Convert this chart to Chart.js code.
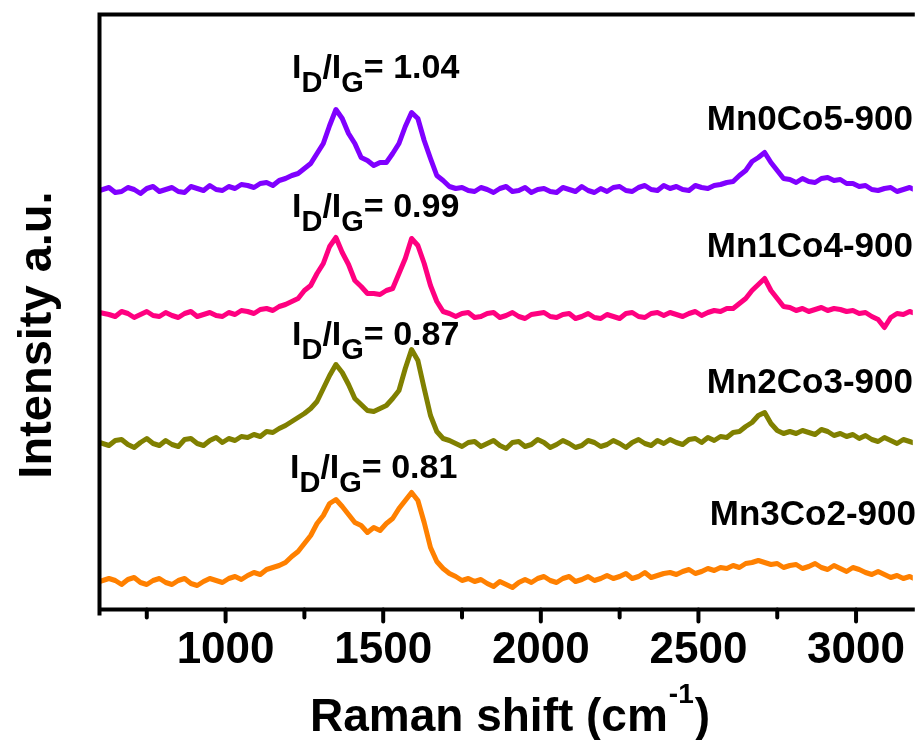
<!DOCTYPE html>
<html>
<head>
<meta charset="utf-8">
<script src="https://cdn.jsdelivr.net/npm/chart.js@4.4.1/dist/chart.umd.min.js"></script>
<style>
  html, body { margin: 0; padding: 0; background: #fff; }
  #wrap { width: 920px; height: 740px; position: relative; overflow: hidden; }
</style>
</head>
<body>
<div id="wrap"><canvas id="c" width="920" height="740"></canvas></div>
<script>
// Raman shift (cm-1) sample positions
const ramanShift = [
  600,630,650,670,690,710,730,750,770,790,
  810,830,850,870,890,910,930,950,970,990,
  1010,1030,1050,1070,1090,1110,1130,1150,1170,1190,
  1210,1230,1250,1270,1290,1310,1330,1350,1370,1390,
  1410,1430,1450,1470,1490,1510,1530,1550,1570,1590,
  1610,1630,1650,1670,1690,1710,1730,1750,1770,1790,
  1810,1830,1850,1870,1890,1910,1930,1950,1970,1990,
  2010,2030,2050,2070,2090,2110,2130,2150,2170,2190,
  2210,2230,2250,2270,2290,2310,2330,2350,2370,2390,
  2410,2430,2450,2470,2490,2510,2530,2550,2570,2590,
  2610,2630,2650,2670,2690,2710,2730,2750,2770,2790,
  2810,2830,2850,2870,2890,2910,2930,2950,2970,2990,
  3010,3030,3050,3070,3090,3110,3130,3150,3170,3190
];

// Stacked intensities (a.u., offset for display)
const mn0co5 = [
  419,422,417,418,422,420,416,421,423,418,
  420,422,418,417,423,421,419,424,420,419,
  423,421,425,424,422,426,427,424,429,431,
  434,436,441,446,456,466,484,500,491,476,
  466,452,449,444,447,447,456,466,483,497,
  491,469,451,434,429,423,421,422,419,418,
  422,420,417,421,423,418,419,422,417,420,
  421,418,417,422,420,418,423,419,417,421,
  418,422,423,419,418,422,424,420,419,424,
  421,423,420,419,424,422,421,424,425,427,
  428,434,439,448,452,457,447,439,431,430,
  427,431,428,427,431,432,429,430,426,426,
  423,424,420,419,421,422,418,420,422,419
];
const mn1co4 = [
  297,295,293,298,296,292,295,298,294,293,
  297,294,292,296,298,293,295,297,294,293,
  297,295,299,298,296,300,301,299,303,305,
  308,311,319,324,336,346,363,372,357,345,
  329,323,316,316,315,319,321,336,351,371,
  364,346,324,308,298,296,293,296,297,292,
  293,296,297,292,294,297,293,291,295,296,
  297,293,292,295,296,291,293,296,292,291,
  295,293,291,296,297,293,292,296,297,294,
  297,295,293,296,298,294,297,299,298,301,
  301,306,311,319,325,331,319,311,303,302,
  299,301,298,300,302,299,301,300,298,299,
  296,297,293,290,282,292,296,295,298,296
];
const mn2co3 = [
  167,164,169,170,165,162,167,171,166,164,
  169,165,163,170,171,166,164,169,172,167,
  171,169,173,172,175,173,178,177,181,184,
  188,192,196,201,208,221,234,245,237,225,
  211,205,199,198,201,204,211,219,241,260,
  249,221,194,178,171,169,166,163,167,168,
  163,166,169,164,161,167,168,163,165,170,
  167,162,165,169,166,162,164,169,167,163,
  165,169,166,162,167,170,166,164,169,166,
  170,167,165,170,171,167,172,169,173,172,
  177,178,183,187,194,197,186,179,176,178,
  176,179,177,175,180,178,174,176,173,175,
  171,174,170,168,172,169,166,170,168,166
];
const mn3co2 = [
  28,31,29,25,30,32,27,25,29,31,
  27,25,29,31,26,24,28,31,29,27,
  31,33,30,34,37,35,40,42,44,47,
  53,58,66,74,86,94,106,110,103,95,
  87,84,77,82,79,86,91,101,109,117,
  109,87,62,48,41,36,33,29,31,28,
  30,26,23,28,25,22,27,30,27,31,
  33,29,27,31,33,28,30,33,29,31,
  34,31,33,36,31,33,37,32,34,36,
  37,35,38,40,36,38,41,39,42,41,
  44,42,46,47,49,47,45,46,42,44,
  45,41,43,46,42,40,44,41,38,42,
  40,37,35,38,35,32,34,31,33,30
];

const seriesNames = ['Mn0Co5-900', 'Mn1Co4-900', 'Mn2Co3-900', 'Mn3Co2-900'];
const ratioValues = ['1.04', '0.99', '0.87', '0.81'];
const majorTicks = [1000, 1500, 2000, 2500, 3000];
const minorTicks = [750, 1250, 1750, 2250, 2750];

const colors = ['#8000ff', '#ff0080', '#808000', '#ff8000'];
const seriesData = [mn0co5, mn1co4, mn2co3, mn3co2];

const FONT = '"Liberation Sans", Arial, Helvetica, sans-serif';

const decor = {
  id: 'decor',
  afterDatasetsDraw(chart) {
    const { ctx, chartArea: a, scales: { x } } = chart;
    ctx.save();
    ctx.strokeStyle = '#000';
    ctx.lineWidth = 4;
    ctx.lineCap = 'butt';
    ctx.beginPath();
    ctx.moveTo(a.left, a.bottom + 6); ctx.lineTo(a.left, a.top - 2);
    ctx.moveTo(a.left - 2, a.top); ctx.lineTo(a.right + 2, a.top);
    ctx.moveTo(a.left - 2, a.bottom); ctx.lineTo(a.right + 2, a.bottom);
    ctx.stroke();
    ctx.lineCap = 'round';
    ctx.beginPath();
    majorTicks.forEach(v => {
      const px = x.getPixelForValue(v);
      ctx.moveTo(px, a.bottom); ctx.lineTo(px, a.bottom + 12);
    });
    minorTicks.forEach(v => {
      const px = x.getPixelForValue(v);
      ctx.moveTo(px, a.bottom); ctx.lineTo(px, a.bottom + 8);
    });
    ctx.stroke();
    ctx.restore();
  },
  afterDraw(chart) {
    const { ctx } = chart;
    ctx.save();
    ctx.fillStyle = '#000';
    ctx.textBaseline = 'alphabetic';

    // I_D/I_G annotations
    const ratioPos = [[292, 78], [292, 217], [292, 345], [290, 478]];
    const mainF = 'bold 34px ' + FONT, subF = 'bold 29px ' + FONT;
    ratioValues.forEach((val, i) => {
      let [px, py] = ratioPos[i];
      ctx.textAlign = 'left';
      const parts = [['I', mainF, 0], ['D', subF, 14], ['/', mainF, 0], ['I', mainF, 0], ['G', subF, 14], ['= ' + val, mainF, 0]];
      parts.forEach(([t, f, dy]) => {
        ctx.font = f;
        ctx.fillText(t, px, py + dy);
        px += ctx.measureText(t).width;
      });
    });

    // series labels
    const labelPos = [[913, 130], [913, 257], [913, 393], [916, 525]];
    ctx.font = 'bold 35px ' + FONT;
    ctx.textAlign = 'right';
    seriesNames.forEach((n, i) => ctx.fillText(n, labelPos[i][0], labelPos[i][1]));

    // y axis title
    ctx.save();
    ctx.translate(51, 335);
    ctx.rotate(-Math.PI / 2);
    ctx.textAlign = 'center';
    ctx.font = 'bold 47px ' + FONT;
    ctx.fillText('Intensity a.u.', 0, 0);
    ctx.restore();

    // x axis title
    ctx.textAlign = 'left';
    let tx = 310;
    ctx.font = 'bold 46px ' + FONT;
    ctx.fillText('Raman shift (cm', tx, 731);
    tx += ctx.measureText('Raman shift (cm').width + 1;
    ctx.font = 'bold 28px ' + FONT;
    ctx.fillText('-1', tx, 703);
    tx += ctx.measureText('-1').width + 1;
    ctx.font = 'bold 46px ' + FONT;
    ctx.fillText(')', tx, 731);
    ctx.restore();
  }
};

new Chart(document.getElementById('c'), {
  type: 'line',
  data: {
    datasets: seriesData.map((arr, i) => ({
      label: seriesNames[i],
      data: ramanShift.map((xv, j) => ({ x: xv, y: arr[j] })),
      borderColor: colors[i],
      backgroundColor: colors[i],
      borderWidth: 5,
      pointRadius: 0,
      tension: 0,
      fill: false,
      borderJoinStyle: 'round'
    }))
  },
  options: {
    responsive: false,
    animation: false,
    devicePixelRatio: 1,
    layout: { padding: { left: 99.5, top: 14.5, right: 0, bottom: 0 } },
    plugins: { legend: { display: false }, tooltip: { enabled: false } },
    scales: {
      x: {
        type: 'linear',
        min: 600,
        max: 3180,
        afterBuildTicks: (scale) => { scale.ticks = majorTicks.map(v => ({ value: v })); },
        afterFit: (scale) => { scale.height = 130.5; },
        grid: { display: false, drawTicks: false },
        border: { display: false },
        ticks: {
          color: '#000',
          font: { family: FONT, size: 44, weight: 'bold' },
          padding: 15,
          maxRotation: 0,
          autoSkip: false,
          callback: (v) => String(v)
        }
      },
      y: {
        display: false,
        min: 0,
        max: 595
      }
    }
  },
  plugins: [decor]
});
</script>
</body>
</html>
